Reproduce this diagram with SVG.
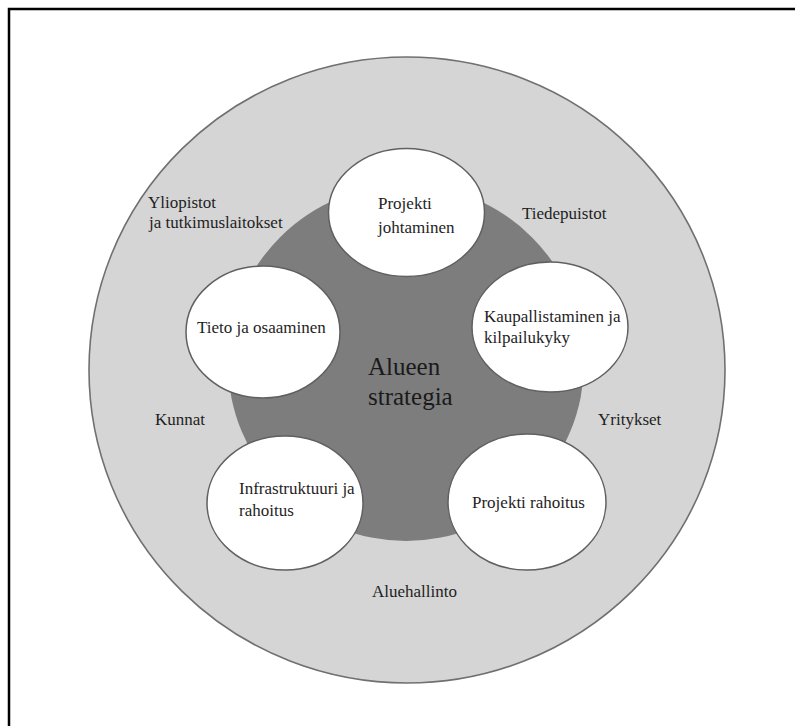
<svg xmlns="http://www.w3.org/2000/svg" width="795" height="726" viewBox="0 0 795 726">
<style>
.t{font-family:"Liberation Serif","Times New Roman",serif;font-size:17px;fill:#1e1e1e}
.c{font-family:"Liberation Serif","Times New Roman",serif;font-size:25px;fill:#1a1a1a}
.node{fill:#ffffff;stroke:#606060;stroke-width:1.5}
</style>
<rect width="795" height="726" fill="#ffffff"/>
<path d="M9,726 V9 H795" fill="none" stroke="#000000" stroke-width="2.5"/>
<g id="outer">
<ellipse cx="407" cy="370" rx="318" ry="313" fill="#d5d5d5" stroke="#707070" stroke-width="1.6"/>
<text class="t" x="148" y="208">Yliopistot</text>
<text class="t" x="149" y="228">ja tutkimuslaitokset</text>
<text class="t" x="522" y="219">Tiedepuistot</text>
<text class="t" x="155" y="425">Kunnat</text>
<text class="t" x="598" y="425">Yritykset</text>
<text class="t" x="372" y="597">Aluehallinto</text>
</g>
<g id="center">
<circle cx="406" cy="363" r="178" fill="#7d7d7d"/>
<text class="c" x="368" y="375">Alueen</text>
<text class="c" x="368" y="405">strategia</text>
</g>
<g id="connectors"></g>
<g id="n-projekti-johtaminen">
<ellipse class="node" cx="406.5" cy="212.5" rx="78" ry="64"/>
<text class="t" x="378" y="209">Projekti</text>
<text class="t" x="378" y="233">johtaminen</text>
</g>
<g id="n-tieto">
<ellipse class="node" cx="263" cy="332" rx="77" ry="66"/>
<text class="t" x="197" y="333">Tieto ja osaaminen</text>
</g>
<g id="n-kaupallistaminen">
<ellipse class="node" cx="550" cy="327" rx="78" ry="65"/>
<text class="t" x="484" y="322">Kaupallistaminen ja</text>
<text class="t" x="484" y="343">kilpailukyky</text>
</g>
<g id="n-infrastruktuuri">
<ellipse class="node" cx="285" cy="503" rx="78" ry="67"/>
<text class="t" x="239" y="494">Infrastruktuuri ja</text>
<text class="t" x="239" y="516">rahoitus</text>
</g>
<g id="n-projekti-rahoitus">
<ellipse class="node" cx="527" cy="502" rx="79" ry="68"/>
<text class="t" x="472" y="508">Projekti rahoitus</text>
</g>
</svg>
